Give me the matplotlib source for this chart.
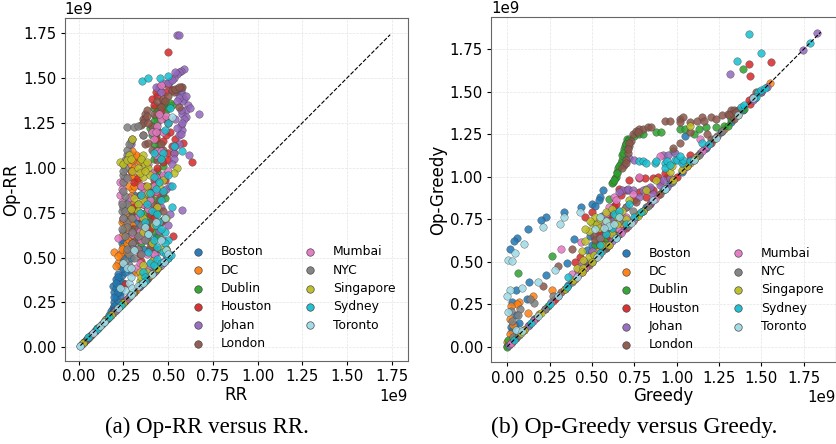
import matplotlib
matplotlib.use("Agg")
import matplotlib.pyplot as plt
from matplotlib.ticker import MultipleLocator

cities = ["Boston", "DC", "Dublin", "Houston", "Johan", "London",
          "Mumbai", "NYC", "Singapore", "Sydney", "Toronto"]
colors = ["#1f77b4", "#ff7f0e", "#2ca02c", "#d62728", "#9467bd", "#8c564b",
          "#e377c2", "#7f7f7f", "#bcbd22", "#17becf", "#9edae5"]

# Op-RR versus RR, (rr, op_rr) in units of 1e9
rr_boston = [(.03,.03),(.11,.11),(.16,.16),(.19,.22),(.2,.25),(.21,.28),(.22,.26),(.2,.31),(.19,.34),(.22,.34),
             (.23,.37),(.21,.38),(.24,.4),(.22,.41),(.25,.36),(.26,.42),(.23,.45),(.25,.5),(.27,.55),(.24,.58),
             (.27,.62),(.25,.65),(.29,.68),(.26,.72),(.29,.78),(.28,.82),(.36,.89),(.33,.6),(.36,.55),(.31,.72),
             (.4,.7),(.2,.23),(.18,.2),(.23,.31),(.25,.44),(.29,.5),(.43,.62),(.3,.42),(.24,.33),(.21,.33),
             (.23,.29),(.22,.39),(.24,.47),(.26,.53),(.28,.6),(.3,.64),(.32,.69),(.34,.75),(.3,.75),(.27,.7),
             (.35,.66),(.38,.62),(.41,.58),(.33,.8),(.31,.85),(.34,.9),(.38,.78),(.42,.75),(.25,.6),(.3,.57),
             (.2,.28),(.22,.31),(.21,.36),(.2,.21),(.17,.18)]
rr_dc = [(.18,.18),(.31,.31),(.2,.53),(.22,.47),(.23,.52),(.25,.56),(.27,.66),(.24,.7),(.29,.72),(.3,.8),
         (.3,.88),(.31,.95),(.29,1.02),(.32,1.04),(.3,1.07),(.31,1.0),(.33,1.06),(.27,.58),(.32,.42),(.34,.62),
         (.26,.75),(.37,.83),(.35,.98),(.28,.6),(.29,.95),(.3,1.04),(.32,1.07),(.28,.9),(.31,.9),(.33,.92),
         (.24,.62),(.26,.67),(.28,.7),(.33,.74),(.3,.68),(.36,.7),(.39,.77),(.22,.51),(.21,.45),(.24,.55),
         (.27,.53),(.31,.62),(.3,1.09),(.34,1.03),(.29,.84),(.25,.71)]
rr_dublin = [(.24,.24),(.44,.44),(.35,.58),(.38,.66),(.4,.72),(.43,.82),(.46,.95),(.42,1.05),(.43,1.1),(.45,1.13),
             (.41,1.18),(.4,1.22),(.44,1.25),(.43,1.29),(.42,1.33),(.45,1.34),(.47,1.35),(.5,1.33),(.52,1.35),(.48,1.36),
             (.44,1.21),(.41,.9),(.45,.62),(.47,.71),(.49,.55),(.43,1.28),(.44,1.31),(.46,1.29),(.42,1.26),(.41,1.2),
             (.43,1.17),(.42,1.13),(.44,1.09),(.46,1.06),(.47,1.01),(.44,.98),(.42,.97),(.4,.83),(.37,.75),(.42,.65),
             (.44,.75),(.36,.66),(.48,.83),(.49,1.32),(.51,1.36)]
rr_houston = [(.07,.07),(.36,.36),(.26,.35),(.3,.66),(.34,.72),(.31,.78),(.31,.92),(.29,.98),(.37,.9),(.4,.74),
              (.42,.93),(.47,1.03),(.5,1.08),(.52,1.12),(.585,1.14),(.634,1.03),(.525,.62),(.47,1.15),(.51,1.2),(.42,1.35),
              (.44,1.4),(.41,1.38),(.48,1.42),(.5,1.46),(.46,1.32),(.497,1.645),(.38,.6),(.46,.7),(.35,.48),(.33,.55),
              (.49,1.27),(.43,1.16),(.45,1.45),(.43,1.42),(.47,1.37),(.52,1.43),(.54,1.16),(.53,1.08),(.5,1.04),(.44,1.0),
              (.41,.86),(.36,.8),(.34,.85),(.33,.94),(.31,.76),(.37,.66),(.42,.72),(.39,.87),(.43,.78),(.45,.86),
              (.48,.93),(.4,.66),(.3,.58),(.34,.52),(.4,.55),(.49,1.18),(.5,1.25)]
rr_johan = [(.05,.05),(.09,.09),(.38,.38),(.547,1.74),(.56,1.74),(.672,1.3),(.58,.765),(.615,1.07),(.59,1.55),(.57,1.54),
            (.56,1.53),(.55,1.52),(.53,1.5),(.51,1.48),(.47,1.47),(.45,1.43),(.43,1.45),(.55,1.42),(.58,1.41),(.59,1.38),
            (.58,1.37),(.61,1.35),(.6,1.32),(.58,1.3),(.6,1.28),(.57,1.24),(.58,1.21),(.56,1.18),(.56,1.13),(.53,1.08),
            (.53,1.05),(.52,1.02),(.29,1.13),(.49,.88),(.51,.74),(.45,.65),(.42,.5),(.39,.42),(.46,.78),(.54,1.27),
            (.56,1.39),(.57,1.43),(.6,1.4),(.62,1.33),(.59,1.27),(.57,1.32),(.55,1.22),(.57,1.19),(.54,1.12),(.58,1.25),
            (.55,1.37),(.5,1.47),(.52,1.49),(.54,1.53),(.46,1.42),(.44,.53),(.47,.6),(.4,.46),(.42,.55),(.5,.68),
            (.48,.96),(.51,.9),(.36,.7)]
rr_london = [(.26,.26),(.42,.42),(.32,.6),(.3,.76),(.4,.7),(.45,.82),(.47,.86),(.44,1.04),(.47,1.1),(.36,1.18),
             (.37,1.13),(.35,1.24),(.36,1.27),(.37,1.3),(.38,1.32),(.42,1.3),(.44,1.37),(.47,1.38),(.5,1.4),(.53,1.42),
             (.55,1.44),(.57,1.45),(.58,1.45),(.56,1.34),(.46,1.13),(.41,1.23),(.33,.62),(.43,.55),(.4,.56),(.48,1.37),
             (.46,1.34),(.52,1.43),(.54,1.44),(.56,1.45),(.37,1.27),(.38,1.29),(.36,1.25),(.39,1.25),(.44,1.2),(.41,1.1),
             (.39,1.14),(.43,.95),(.47,.76),(.41,.8),(.37,.68),(.35,.72),(.31,.66)]
rr_mumbai = [(.02,.02),(.13,.13),(.27,.27),(.22,.61),(.23,.85),(.25,.92),(.24,.88),(.28,.83),(.33,.73),(.36,.8),
             (.4,.82),(.42,.9),(.39,1.02),(.43,1.07),(.44,1.09),(.42,1.16),(.41,1.2),(.46,1.27),(.49,1.29),(.44,1.23),
             (.37,.87),(.34,.65),(.38,.52),(.32,.44),(.46,1.46),(.47,.96),(.5,.98),(.27,.78),(.35,.6),(.43,.95),
             (.23,.92),(.26,.95),(.24,.81),(.25,.72),(.3,.63),(.36,.62),(.42,.52),(.39,.45),(.34,.47),(.43,.87),
             (.41,.97),(.46,1.09),(.47,1.2),(.43,1.2),(.45,1.3),(.39,.77),(.06,.06),(.35,.9)]
rr_nyc = [(.23,.23),(.27,.7),(.24,.76),(.25,.78),(.27,.8),(.26,.84),(.25,.87),(.25,.92),(.25,.96),(.26,1.0),
          (.25,1.02),(.27,1.07),(.27,1.1),(.29,1.15),(.3,1.16),(.27,1.225),(.31,1.225),(.33,1.23),(.33,.62),(.3,.58),
          (.3,.55),(.28,.52),(.31,.5),(.36,1.18),(.35,.68),(.39,.6),(.26,.62),(.27,.55),(.24,.8),(.26,.76),
          (.25,.72),(.27,.67),(.3,.64),(.33,.55),(.35,.52),(.37,.6),(.27,.94),(.26,1.04),(.28,1.13),(.25,.98),
          (.3,.72),(.24,.66),(.28,.46),(.26,.48)]
rr_singapore = [(.15,.15),(.3,.3),(.44,.44),(.23,1.03),(.25,1.02),(.28,1.07),(.3,.98),(.36,1.03),(.37,1.02),(.39,1.0),
                (.36,1.07),(.33,1.0),(.36,.95),(.38,.9),(.36,.82),(.33,.8),(.36,.72),(.34,.42),(.36,.46),(.34,.37),
                (.49,.55),(.55,1.0),(.53,.97),(.47,.93),(.42,.68),(.3,1.16),(.4,.96),(.44,.78),(.49,.72),(.27,1.04),
                (.29,1.05),(.35,1.05),(.38,1.03),(.34,.97),(.37,.98),(.31,.83),(.39,.86),(.36,.64),(.41,.58),(.35,.39),
                (.38,.42),(.41,.48),(.45,.9),(.46,.55),(.33,.76),(.29,.77)]
rr_sydney = [(.1,.1),(.35,.35),(.5,.5),(.352,1.48),(.39,1.5),(.455,1.5),(.5,1.51),(.51,1.33),(.48,1.21),(.47,1.08),
             (.575,1.09),(.53,1.12),(.42,1.08),(.5,.96),(.52,.9),(.47,.87),(.43,.88),(.4,.86),(.45,.7),(.48,.64),
             (.5,.6),(.48,.58),(.47,.53),(.44,.56),(.39,.63),(.4,.47),(.36,.42),(.42,.46),(.46,.82),(.37,.7),
             (.5,1.25),(.46,1.05),(.42,.95),(.38,.8),(.41,.76),(.44,.74),(.35,.85),(.43,.68),(.46,.66),(.52,.78),
             (.39,.53),(.42,.6),(.44,.49),(.37,.39),(.46,.47),(.34,.75),(.49,.52),(.45,.92)]
rr_toronto = [(.01,.01),(.14,.14),(.3,.3),(.49,.54),(.25,.47),(.27,.44),(.29,.44),(.28,.36),(.26,.32),
              (.3,.33),(.23,.33),(.48,.72),(.46,.6),(.39,.63),(.37,.67),(.5,.52),(.52,1.28),(.31,.54),
              (.29,.39),(.33,.34),(.43,.7),(.12,.12)]

# Points of the RR panel that sit on the diagonal
rr_diag_boston = [.045, .095, .2, .265, .335, .4, .47]
rr_diag_dc = [.065, .125, .175, .25, .32, .385, .455]
rr_diag_dublin = [.03, .105, .215, .285, .35, .43]
rr_diag_houston = [.075, .155, .225, .3, .365, .415, .48]
rr_diag_johan = [.05, .09, .19, .255, .34, .395, .49]
rr_diag_london = [.04, .115, .165, .24, .31, .375, .445]
rr_diag_mumbai = [.015, .085, .135, .21, .275, .345, .46]
rr_diag_nyc = [.06, .145, .205, .28, .355, .425]
rr_diag_singapore = [.025, .11, .18, .245, .305, .405, .44]
rr_diag_sydney = [.055, .1, .17, .235, .295, .37, .5, .515]
rr_diag_toronto = [.01, .08, .14, .22, .29, .36, .41, .475]

# Op-Greedy versus Greedy, (greedy, op_greedy) in units of 1e9
gr_boston = [(.23,.76),(.2,.745),(.336,.79),(.437,.82),(.5,.84),(.547,.88),(.566,.92),(.54,.86),(.52,.83),(.122,.694),
             (.055,.64),(.041,.623),(.014,.573),(.051,.331),(.026,.263),(.13,.38),(.228,.424),(.35,.492),(.393,.631),(.118,.278),
             (.05,.185),(.02,.115),(.045,.125),(.49,.65),(.57,.62),(.62,.8),(.58,.58),(.6,.75),(1.05,1.24),(.56,.77),
             (.52,.72),(.55,.68),(.6,.72),(.03,.09),(.07,.14),(.47,.57),(.5,.6)]
gr_dc = [(.07,.263),(.153,.298),(.124,.196),(.265,.331),(.016,.165),(.016,.076),(0,.03),(.06,.25),(.55,.62),(.58,.63),
         (.62,.72),(.6,.68),(.64,.66),(.5,.55),(.57,.66),(.54,.58),(.61,.65),(.68,.72),(.02,.24),(.035,.13)]
gr_dublin = [(0,.004),(.005,.04),(.065,.431),(.265,.533),(.517,.596),(.62,.96),(.625,.97),(.635,.99),(.64,1.0),(.65,1.03),
             (.655,1.05),(.665,1.07),(.675,1.1),(.68,1.13),(.69,1.16),(.695,1.18),(.7,1.2),(.705,1.22),(.72,1.22),(.75,1.24),
             (.78,1.25),(.8,1.25),(.88,1.26),(.91,1.26),(.98,1.15),(1.02,1.28),(1.05,1.28),(1.13,1.28),(1.17,1.29),(1.23,1.29),
             (1.39,1.633),(.6,.87),(.57,.69),(1.28,1.3),(1.32,1.34),(.71,1.21),(.7,1.19),(.685,1.14),(.67,1.08),(.66,1.06),
             (.645,1.02),(.63,.98),(.58,.64),(.62,.76),(1.1,1.25)]
gr_houston = [(.46,.76),(.5,.79),(.6,.77),(.63,.83),(.67,.89),(.66,.93),(.7,.92),(.72,.98),(.78,.99),(.81,.99),
              (.86,.99),(.89,1.0),(.94,1.0),(.93,1.02),(.84,.93),(.78,.91),(.86,.92),(1.08,1.13),(1.426,1.663),(1.43,1.594),
              (1.556,1.673),(1.425,1.45),(.64,.84),(.4,.5),(.55,.62),(.6,.65),(.54,.66),(.65,.78),(.7,.82),(.75,.86),
              (.82,.88),(.43,.53),(.57,.71),(1.45,1.47),(.9,.97)]
gr_johan = [(.72,1.11),(.75,1.1),(.92,1.13),(.95,1.13),(.99,1.14),(.71,.92),(.68,.92),(.71,.93),(.74,.92),(.82,.93),
            (.84,.94),(.9,.95),(.92,.98),(.96,.99),(1.04,1.08),(1.08,1.1),(1.315,1.605),(1.745,1.745),(1.827,1.847),(.44,.48),
            (.47,.5),(.66,.91),(.78,.88),(.8,.92),(.62,.74),(.86,.9),(.5,.56),(.58,.68)]
gr_london = [(.74,1.25),(.76,1.27),(.78,1.28),(.8,1.28),(.83,1.29),(.85,1.29),(.93,1.33),(.96,1.33),(1.02,1.34),(1.04,1.35),
             (1.02,1.32),(1.08,1.32),(1.12,1.33),(1.15,1.35),(1.16,1.33),(1.2,1.35),(1.23,1.34),(1.27,1.36),(1.3,1.37),(1.32,1.39),
             (1.34,1.39),(1.36,1.39),(1.33,1.37),(1.08,1.26),(1.02,1.2),(1.2,1.22),(1.18,1.25),(.73,1.21),(.72,1.18),(.71,1.14),
             (.7,1.1),(.69,1.07),(.68,1.05),(.98,1.17),(.38,.576),(.3,.473),(.212,.355),(.51,.65),(.76,.85),(1.47,1.5),(.68,.76),
             (.72,1.2),(.715,1.16),(.7,1.08),(.77,1.26),(1.31,1.36),(1.35,1.38),(.52,.63),(.55,.6),(.62,.7)]
gr_mumbai = [(.315,.573),(.437,.616),(.38,.43),(.42,.45),(.9,1.12),(1.14,1.22),(.63,.88),(.64,.86),(.74,.9),(.6,.82),
             (.78,1.0),(.55,.72),(.58,.78),(.65,.7),(.7,.76)]
gr_nyc = [(.075,.224),(.02,.208),(.156,.255),(.134,.278),(.065,.188),(.026,.149),(.035,.057),(.27,.3),(.7,.82),(.6,.68),
          (.58,.6),(.55,.64),(.62,.68),(.66,.74),(.74,.8)]
gr_singapore = [(.41,.46),(.45,.46),(.48,.53),(.51,.54),(.46,.62),(.48,.68),(.5,.73),(.52,.76),(.49,.74),(.53,.72),
                (.55,.75),(.58,.79),(.62,.81),(.68,.8),(.72,.86),(.82,.92),(.88,.98),(.96,1.03),(.97,1.06),(1.08,1.3),
                (.62,.66),(1.03,1.04),(.45,.51),(.54,.7),(.6,.71),(.65,.72),(.7,.75),(.44,.56),(.56,.6),(.64,.77),
                (.59,.74),(.46,.69)]
gr_sydney = [(1.426,1.84),(1.5,1.727),(1.355,1.68),(.36,.41),(.58,.66),(.62,.7),(.78,1.09),(.8,1.09),(.82,1.08),(.87,1.08),
             (.88,1.09),(.93,1.08),(.94,1.09),(.99,1.1),(1.0,1.1),(1.03,1.08),(1.04,1.1),(1.08,1.09),(.93,1.05),(.75,.76),
             (1.15,1.2),(1.38,1.41),(1.48,1.5),(1.5,1.51),(1.786,1.788),(1.4,1.42),(.55,.6),(.63,.78),(.7,.72),(.96,1.07),
             (.66,.8),(.72,.84),(1.02,1.12)]
gr_toronto = [(.1,.604),(.047,.553),(.004,.512),(.03,.502),(.212,.706),(.31,.72),(.336,.76),(.183,.38),(.085,.347),(.018,.331),
              (0,.298),(.006,.204),(.281,.449),(.43,.79),(.55,.76),(.58,.74),(.6,.71),(.63,.72),(.05,.1),(1.45,1.46),
              (.57,.7),(.52,.69),(.66,.76)]

# Points of the Greedy panel that sit on the diagonal
gr_diag_boston = [.06, .16, .3, .36, .5, .72, .76, .82, .96, 1.03, 1.17, 1.26, 1.32, 1.39, 1.46]
gr_diag_dc = [.02, .19, .27, .4, .52, .66, .74, .89, .98, 1.08, 1.28, 1.36, 1.553]
gr_diag_dublin = [.0, .13, .24, .34, .66, .78, .92, 1.14, 1.22, 1.3, 1.4]
gr_diag_houston = [.03, .1, .28, .44, .6, .7, .84, 1.0, 1.06, 1.2, 1.43, 1.5]
gr_diag_johan = [.01, .12, .22, .46, .62, .68, .85, .94, 1.12, 1.16, 1.45, 1.5, 1.53]
gr_diag_london = [.05, .17, .32, .48, .58, .8, .9, 1.1, 1.24, 1.34]
gr_diag_mumbai = [.02, .15, .26, .42, .46, .54, .67, .75, .87, 1.04, 1.15, 1.18]
gr_diag_nyc = [.07, .22, .38, .56, .65, .71, .83, .97, 1.13, 1.27]
gr_diag_singapore = [.08, .1, .2, .34, .39, .44, .5, .6, .77, .8, .98, 1.06, 1.11]
gr_diag_sydney = [.04, .14, .25, .35, .55, .64, .79, .93, 1.19, 1.47, 1.52]
gr_diag_toronto = [.09, .18, .3, .41, .53, .64, .73, .86, .93, 1.1, 1.23, 1.36]

rr_points = [rr_boston, rr_dc, rr_dublin, rr_houston, rr_johan, rr_london,
             rr_mumbai, rr_nyc, rr_singapore, rr_sydney, rr_toronto]
rr_diags = [rr_diag_boston, rr_diag_dc, rr_diag_dublin, rr_diag_houston, rr_diag_johan, rr_diag_london,
            rr_diag_mumbai, rr_diag_nyc, rr_diag_singapore, rr_diag_sydney, rr_diag_toronto]
gr_points = [gr_boston, gr_dc, gr_dublin, gr_houston, gr_johan, gr_london,
             gr_mumbai, gr_nyc, gr_singapore, gr_sydney, gr_toronto]
gr_diags = [gr_diag_boston, gr_diag_dc, gr_diag_dublin, gr_diag_houston, gr_diag_johan, gr_diag_london,
            gr_diag_mumbai, gr_diag_nyc, gr_diag_singapore, gr_diag_sydney, gr_diag_toronto]

rr_line = [0.01, 1.74]
gr_line = [0.0, 1.85]

W, H = 836, 444


def make_axes(fig, left, right, top, bottom):
    return fig.add_axes([left / W, 1 - bottom / H, (right - left) / W, (bottom - top) / H])


def draw(ax, points, diags, line, xlabel, ylabel, xlim, ylim, legend_anchor):
    for name, color, pts, diag in zip(cities, colors, points, diags):
        xs = [p[0] * 1e9 for p in pts] + [d * 1e9 for d in diag]
        ys = [p[1] * 1e9 for p in pts] + [d * 1e9 for d in diag]
        ax.scatter(xs, ys, s=29, c=color, alpha=0.85, edgecolors="#444444", linewidths=0.3, label=name, zorder=3)
    ends = [v * 1e9 for v in line]
    ax.plot(ends, ends, color="black", ls="--", lw=0.8, zorder=4)
    ax.set_xlim(xlim[0] * 1e9, xlim[1] * 1e9)
    ax.set_ylim(ylim[0] * 1e9, ylim[1] * 1e9)
    ax.xaxis.set_major_locator(MultipleLocator(0.25e9))
    ax.yaxis.set_major_locator(MultipleLocator(0.25e9))
    ax.tick_params(labelsize=10.8, length=3, width=0.8, pad=3)
    ax.xaxis.get_offset_text().set_fontsize(10.8)
    ax.yaxis.get_offset_text().set_fontsize(10.8)
    ax.grid(True, ls="--", lw=0.5, color="#dddddd", alpha=0.8, zorder=0)
    ax.set_axisbelow(True)
    ax.set_xlabel(xlabel, fontsize=12, labelpad=1)
    ax.set_ylabel(ylabel, fontsize=12, labelpad=2)
    for s in ax.spines.values():
        s.set_color("#666666")
    leg = ax.legend(ncol=2, frameon=False, fontsize=8.9, loc="lower left", bbox_to_anchor=legend_anchor,
                    labelspacing=0.43, columnspacing=2.1, handletextpad=0.85, borderaxespad=0)
    for h in leg.legend_handles:
        h.set_alpha(0.95)
        h.set_linewidth(0.5)


fig = plt.figure(figsize=(W / 100, H / 100), dpi=100)

ax1 = make_axes(fig, 64.5, 407.5, 18, 361)
draw(ax1, rr_points, rr_diags, rr_line, "RR", "Op-RR", (-0.079, 1.837), (-0.076, 1.833), (0.338, 0.018))
ax2 = make_axes(fig, 491.3, 836, 17.5, 362.3)
draw(ax2, gr_points, gr_diags, gr_line, "Greedy", "Op-Greedy", (-0.094, 1.94), (-0.092, 1.936), (0.34, 0.018))

fig.text(207 / W, 1 - 427 / H, "(a) Op-RR versus RR.", family="Liberation Serif", fontsize=16.5, ha="center", va="center")
fig.text(634 / W, 1 - 427 / H, "(b) Op-Greedy versus Greedy.", family="Liberation Serif", fontsize=17, ha="center", va="center")

fig.savefig("out.png", dpi=100)
